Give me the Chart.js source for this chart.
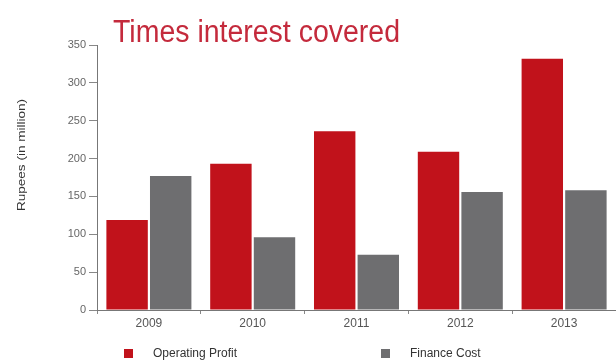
<!DOCTYPE html>
<html><head><meta charset="utf-8">
<script src="https://cdn.jsdelivr.net/npm/chart.js@4/dist/chart.umd.min.js"></script>
<style>html,body{margin:0;padding:0;background:#fff}#wrap{width:616px;height:364px}</style>
</head><body><div id="wrap"><canvas id="c" width="616" height="364"></canvas></div>
<script>
const categories = ['2009','2010','2011','2012','2013'];
const operatingProfit = [119, 193, 236, 209, 332];
const financeCost = [177, 96, 73, 156, 158];
const seriesNames = ['Operating Profit','Finance Cost'];
const yTicks = [0,50,100,150,200,250,300,350];
const titleText = 'Times interest covered';
const yTitle = 'Rupees (in million)';

const RED = '#c1121b', GRAY = '#6e6e70';

const overlay = {
  id:'overlay',
  afterDraw(chart){
    const ctx = chart.ctx;
    ctx.save();
    // title
    ctx.font = '31px "Liberation Sans Narrow", "Liberation Sans", sans-serif';
    ctx.fillStyle = '#c42a3c';
    ctx.textBaseline = 'alphabetic';
    const w = ctx.measureText(titleText).width;
    ctx.translate(113, 42);
    ctx.scale(287 / w, 1);
    ctx.fillText(titleText, 0, 0);
    ctx.restore();
    // y axis title
    ctx.save();
    ctx.font = '10px "Liberation Sans", sans-serif';
    ctx.fillStyle = '#333';
    ctx.textAlign = 'center';
    ctx.textBaseline = 'middle';
    const yw = ctx.measureText(yTitle).width;
    ctx.translate(22, 155);
    ctx.rotate(-Math.PI/2);
    ctx.scale(112 / yw, 1);
    ctx.fillText(yTitle, 0, 0);
    ctx.restore();
    // legend
    ctx.save();
    ctx.font = '12px "Liberation Sans", sans-serif';
    ctx.textBaseline = 'middle';
    const items = [{x:124, tx:153, c:RED, t:seriesNames[0]},{x:381, tx:410, c:GRAY, t:seriesNames[1]}];
    items.forEach(it=>{
      ctx.fillStyle = it.c; ctx.fillRect(it.x, 349, 9, 9);
      ctx.fillStyle = '#333'; ctx.fillText(it.t, it.tx, 354);
    });
    ctx.restore();
  }
};

new Chart(document.getElementById('c'), {
  type:'bar',
  data:{labels:categories, datasets:[
    {label:seriesNames[0], data:operatingProfit, backgroundColor:RED, categoryPercentage:0.84, barPercentage:0.95},
    {label:seriesNames[1], data:financeCost, backgroundColor:GRAY, categoryPercentage:0.84, barPercentage:0.95}
  ]},
  options:{
    responsive:false, animation:false,
    layout:{padding:{top:45,left:0,right:0,bottom:0}},
    plugins:{legend:{display:false}, title:{display:false}, tooltip:{enabled:false}},
    scales:{
      x:{
        grid:{display:true, drawOnChartArea:false, drawTicks:true, tickLength:4, color:'#888', offset:true},
        border:{display:true, color:'#777', width:1},
        ticks:{color:'#555', font:{size:12, family:'"Liberation Sans", sans-serif'}, padding:2},
        afterFit(s){ s.height = 54; }
      },
      y:{
        min:0, max:350,
        afterBuildTicks(s){ s.ticks = yTicks.map(v=>({value:v})); },
        grid:{display:true, drawOnChartArea:false, drawTicks:true, tickLength:8, color:'#888'},
        border:{display:true, color:'#777', width:1},
        ticks:{color:'#666', font:{size:11, family:'"Liberation Sans", sans-serif'}, padding:3},
        afterFit(s){ s.width = 97; }
      }
    }
  },
  plugins:[overlay]
});
</script></body></html>
